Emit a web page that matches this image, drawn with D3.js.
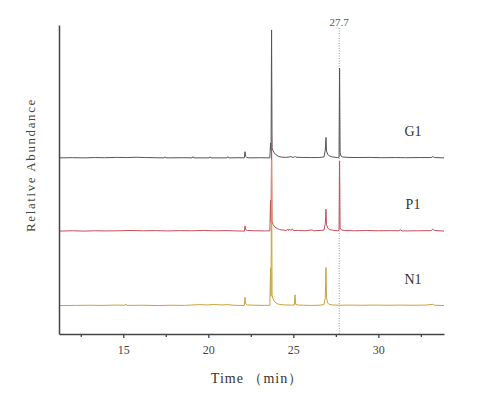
<!DOCTYPE html>
<html>
<head>
<meta charset="utf-8">
<script src="https://cdn.jsdelivr.net/npm/d3@7"></script>
<style>
  html, body { margin: 0; padding: 0; background: #ffffff; }
  svg { display: block; }
</style>
</head>
<body>
<svg id="chart" width="489" height="396"></svg>
<script>
// ---- data ----
const seriesNames = ["G1", "P1", "N1"];
const seriesOffsets = [57.0, 33.3, 9.2];   // vertical stacking offsets (relative abundance units)
const majorTicks = [15, 20, 25, 30];
const minorTicks = [12.5, 17.5, 22.5, 27.5, 32.5];
const markerTime = 27.7;
const markerLabel = "27.7";
const xTitle = "Time \uFF08min\uFF09";
const yTitle = "Relative Abundance";

const g1 = [
  [11.25,0],[12.0,0.05],[12.8,0],[13.3,0.1],[13.9,0.05],[14.6,0.15],[15.2,0.1],[15.8,0.2],[16.3,0.1],[16.8,0.05],
  [17.40,0],[17.45,0.35],[17.50,0],[18.5,0.05],[19.05,0],[19.10,0.4],[19.15,0],[20.05,0],[20.10,0.35],[20.15,0],
  [21.10,0],[21.15,0.4],[21.20,0],[21.8,0.05],[22.12,0],[22.16,2.0],[22.19,0.5],[22.25,0.2],[22.4,0],[23.0,0.05],
  [23.62,0],[23.66,4.8],[23.69,2.5],[23.72,41.4],[23.75,3.2],[23.80,2.4],[23.88,1.6],[23.98,1.0],[24.12,0.5],[24.3,0.25],
  [24.55,0.15],[24.80,0.3],[24.85,0.6],[24.90,0.2],[25.05,0.2],[25.10,0.5],[25.15,0.2],[25.5,0.15],[26.0,0.1],[26.5,0.1],
  [26.80,0.3],[26.88,2.5],[26.92,6.6],[26.95,2.2],[27.02,1.2],[27.12,0.6],[27.3,0.3],[27.6,0.1],[27.69,0.2],[27.72,29.0],
  [27.75,1.8],[27.80,0.6],[27.9,0.3],[28.2,0.15],[28.8,0.1],[29.5,0.15],[30.2,0.05],[31.0,0.1],[31.6,0.05],[32.4,0.1],
  [33.10,0.1],[33.20,0.4],[33.30,0.1],[33.86,0]
];
const p1 = [
  [11.25,0],[12.0,0.1],[12.7,0],[13.3,0.1],[14.0,0.05],[14.7,0.1],[15.4,0.2],[16.2,0.1],[16.9,0.15],[17.6,0.05],
  [18.3,0.15],[19.0,0.1],[19.7,0.2],[20.4,0.1],[21.1,0.15],[21.7,0.05],[22.12,0],[22.16,1.7],[22.19,0.5],[22.3,0.2],
  [22.8,0.1],[23.3,0.05],[23.62,0.1],[23.66,10.0],[23.69,3.0],[23.72,30.1],[23.75,3.2],[23.80,2.2],[23.90,1.4],[24.05,0.8],
  [24.2,0.5],[24.45,0.3],[24.6,0.2],[24.68,0.7],[24.72,0.2],[24.80,0.6],[24.85,0.2],[24.95,0.7],[25.0,0.2],[25.3,0.2],
  [25.7,0.1],[26.1,0.4],[26.2,0.1],[26.80,0.3],[26.88,2.5],[26.92,7.1],[26.95,2.2],[27.02,1.0],[27.12,0.5],[27.3,0.3],
  [27.6,0.1],[27.69,0.3],[27.72,22.7],[27.75,1.2],[27.82,0.4],[28.0,0.2],[28.6,0.1],[29.3,0.2],[30.0,0.1],[30.7,0.15],
  [31.2,0.1],[31.3,0.4],[31.4,0.05],[32.3,0.1],[33.1,0.15],[33.2,0.6],[33.3,0.2],[33.86,0]
];
const n1 = [
  [11.25,0],[12.2,0.05],[13.0,0.1],[13.8,0.05],[14.5,0.15],[15.10,0.1],[15.15,0.5],[15.2,0.05],[16.2,0.1],[17.0,0],
  [17.8,0.1],[18.6,0.05],[19.1,0.2],[19.5,0.3],[19.9,0.2],[20.3,0.35],[20.8,0.2],[21.1,0.3],[21.5,0.1],[22.12,0],
  [22.16,2.7],[22.19,0.6],[22.3,0.2],[22.8,0.1],[23.3,0.05],[23.62,0.1],[23.66,12.2],[23.69,3.0],[23.72,47.2],[23.75,3.5],
  [23.80,2.2],[23.90,1.2],[24.05,0.6],[24.2,0.35],[24.5,0.2],[24.9,0.15],[25.06,0.2],[25.10,3.5],[25.14,0.4],[25.25,0.2],
  [25.6,0.1],[26.0,0.05],[26.5,0.1],[26.80,0.3],[26.88,2.5],[26.92,12.3],[26.95,2.6],[27.02,0.8],[27.12,0.4],[27.3,0.2],
  [27.7,0.1],[28.3,0.15],[29.0,0.1],[29.8,0.15],[30.5,0.1],[31.3,0.15],[32.1,0.1],[32.8,0.15],[33.2,0.4],[33.3,0.1],
  [33.86,0]
];
const seriesData = [g1, p1, n1];
const seriesColors = ["#555555", "#cc4d5a", "#c9a33c"];

// ---- drawing ----
const svg = d3.select("#chart");
const x = d3.scaleLinear().domain([11.22, 33.86]).range([59, 444]);
const y = d3.scaleLinear().domain([0, 100]).range([334, 25]);

const serif = "'Liberation Serif', 'DejaVu Serif', serif";

// marker dotted line
svg.append("line")
  .attr("x1", x(markerTime)).attr("x2", x(markerTime))
  .attr("y1", 28).attr("y2", y(0))
  .attr("stroke", "#9a9a9a").attr("stroke-width", 1)
  .attr("stroke-dasharray", "1,1.5");
svg.append("text")
  .attr("x", x(markerTime)).attr("y", 26)
  .attr("text-anchor", "middle")
  .attr("font-family", serif).attr("font-size", 11)
  .attr("fill", "#555")
  .text(markerLabel);

// series
const line = d3.line().x(d => x(d[0])).y(d => d.yv);
seriesData.forEach((data, i) => {
  const pts = data.map(d => { const p = [d[0], d[1]]; p.yv = y(seriesOffsets[i] + d[1]); return p; });
  svg.append("path")
    .attr("d", line(pts))
    .attr("fill", "none")
    .attr("stroke", seriesColors[i])
    .attr("stroke-width", 1)
    .attr("stroke-linejoin", "round");
});

// series labels
seriesNames.forEach((name, i) => {
  svg.append("text")
    .attr("x", 413).attr("y", y(seriesOffsets[i]) - 22)
    .attr("text-anchor", "middle")
    .attr("font-family", serif).attr("font-size", 14)
    .attr("fill", "#333")
    .text(name);
});

// axes
const xAxis = svg.append("g").attr("transform", `translate(0,${y(0)})`)
  .call(d3.axisBottom(x).tickValues(majorTicks).tickSize(4).tickSizeOuter(0).tickFormat(d3.format("d")));
const xMinor = svg.append("g").attr("transform", `translate(0,${y(0)})`)
  .call(d3.axisBottom(x).tickValues(minorTicks).tickSize(3).tickSizeOuter(0).tickFormat(""));
xMinor.select(".domain").remove();
[xAxis, xMinor].forEach(g => {
  g.selectAll("path, line").attr("stroke", "#444").attr("stroke-width", 1.3);
  g.selectAll("text").attr("font-family", serif).attr("font-size", 12).attr("fill", "#444").attr("dy", "1.1em");
});

const yAxis = svg.append("g").attr("transform", `translate(${x.range()[0]},0)`)
  .call(d3.axisLeft(y).tickValues([]).tickSizeOuter(0));
yAxis.selectAll("path").attr("stroke", "#444").attr("stroke-width", 1.5);

// axis titles
svg.append("text")
  .attr("x", 257).attr("y", 383)
  .attr("text-anchor", "middle")
  .attr("font-family", serif).attr("font-size", 14)
  .attr("letter-spacing", 1)
  .attr("fill", "#333")
  .text(xTitle);
svg.append("text")
  .attr("transform", "translate(35,165) rotate(-90)")
  .attr("text-anchor", "middle")
  .attr("font-family", serif).attr("font-size", 13)
  .attr("letter-spacing", 1.6)
  .attr("fill", "#444")
  .text(yTitle);
</script>
</body>
</html>
